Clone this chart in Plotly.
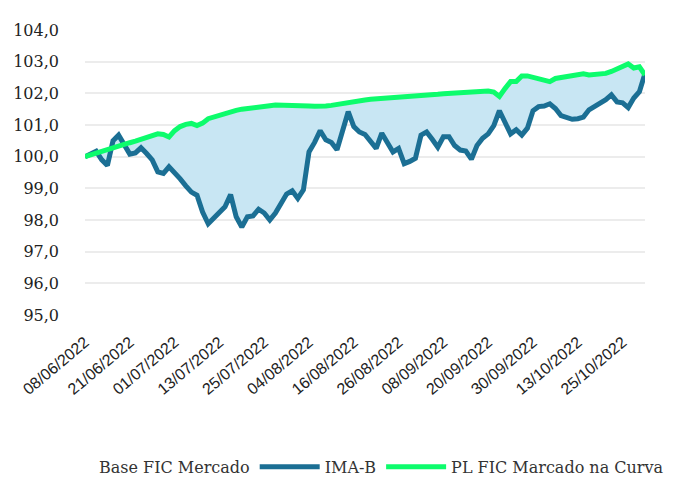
import pandas as pd
import plotly.graph_objects as go

# Business days (Brazil holidays removed) used as categories
holidays = ["2022-06-16", "2022-09-07", "2022-10-12"]
dates = pd.bdate_range("2022-06-08", "2022-10-31", freq="C",
                       holidays=holidays).strftime("%d/%m/%Y").tolist()

tick_labels = ["08/06/2022", "21/06/2022", "01/07/2022", "13/07/2022", "25/07/2022",
               "04/08/2022", "16/08/2022", "26/08/2022", "08/09/2022", "20/09/2022",
               "30/09/2022", "13/10/2022", "25/10/2022"]

ima_b = [100.0, 100.1, 100.17, 99.9, 99.72, 100.5, 100.68, 100.38, 100.08, 100.12,
         100.28, 100.1, 99.9, 99.52, 99.47, 99.68, 99.5, 99.3, 99.08, 98.88,
         98.78, 98.25, 97.88, 98.05, 98.25, 98.42, 98.8, 98.1, 97.78, 98.1,
         98.13, 98.34, 98.22, 98.0, 98.22, 98.5, 98.82, 98.92, 98.68, 98.95,
         100.15, 100.45, 100.82, 100.53, 100.45, 100.22, 100.85, 101.42, 100.95, 100.78,
         100.7, 100.5, 100.26, 100.74, 100.45, 100.15, 100.26, 99.78, 99.85, 99.95,
         100.68, 100.78, 100.55, 100.3, 100.63, 100.63, 100.35, 100.21, 100.18, 99.92,
         100.35, 100.58, 100.72, 100.98, 101.45, 101.05, 100.72, 100.85, 100.68, 100.9,
         101.45, 101.58, 101.6, 101.67, 101.52, 101.3, 101.24, 101.18, 101.2, 101.25,
         101.48, 101.58, 101.66, 101.8, 101.95, 101.73, 101.7, 101.55, 101.85, 102.05,
         102.63]

pl_fic = [100.0, 100.06, 100.1, 100.16, 100.22, 100.27, 100.33, 100.38, 100.44, 100.49,
          100.55, 100.6, 100.66, 100.72, 100.7, 100.62, 100.82, 100.95, 101.02, 101.05,
          100.98, 101.06, 101.2, 101.26, 101.31, 101.37, 101.42, 101.46, 101.5, 101.53,
          101.55, 101.58, 101.6, 101.61, 101.63, 101.63, 101.63, 101.63, 101.62, 101.61,
          101.6, 101.59, 101.58, 101.6, 101.62, 101.65, 101.67, 101.72, 101.77, 101.78,
          101.79, 101.81, 101.82, 101.84, 101.85, 101.86, 101.88, 101.89, 101.9, 101.92,
          101.93, 101.95, 101.96, 101.97, 101.99, 102.0, 102.02, 102.03, 102.05, 102.06,
          102.06, 102.07, 102.07, 102.04, 101.9, 102.15, 102.37, 102.37, 102.55, 102.55,
          102.5, 102.44, 102.41, 102.37, 102.47, 102.5, 102.53, 102.56, 102.6, 102.62,
          102.58, 102.59, 102.61, 102.63, 102.69, 102.77, 102.85, 102.93, 102.8, 102.84,
          102.58]

BLUE = "#1b6f94"
GREEN = "#0dfc6c"
FILL = "#c8e6f3"
SERIF = "DejaVu Serif"

fig = go.Figure()
# band between the two series
fig.add_trace(go.Scatter(x=dates, y=pl_fic, mode="lines", line=dict(width=0),
                         showlegend=False, hoverinfo="skip"))
fig.add_trace(go.Scatter(x=dates, y=ima_b, mode="lines", line=dict(width=0),
                         fill="tonexty", fillcolor=FILL, showlegend=False,
                         hoverinfo="skip"))
# legend entry of the band
fig.add_trace(go.Scatter(x=[None], y=[None], mode="lines", line=dict(width=0),
                         name="Base FIC Mercado"))
fig.add_trace(go.Scatter(x=dates, y=ima_b, mode="lines", name="IMA-B",
                         line=dict(color=BLUE, width=5, shape="linear")))
fig.add_trace(go.Scatter(x=dates, y=pl_fic, mode="lines", name="PL FIC Marcado na Curva",
                         line=dict(color=GREEN, width=5, shape="linear")))

fig.update_layout(
    width=677, height=477,
    margin=dict(l=85, r=32, t=30, b=162, autoexpand=False),
    paper_bgcolor="white", plot_bgcolor="white",
    separators=",.",
    showlegend=True,
    legend=dict(orientation="h", x=-0.1, xanchor="left", y=-0.533, yanchor="middle",
                font=dict(family=SERIF, size=16, color="#333333"),
                itemwidth=60, traceorder="normal"),
    xaxis=dict(type="category", range=[0, len(dates) - 1], automargin=False,
               tickmode="array", tickvals=tick_labels, ticktext=tick_labels,
               tickangle=-40, showgrid=False, zeroline=False, showline=False,
               ticks="", ticklabelstandoff=14,
               tickfont=dict(family="Liberation Sans", size=16, color="#222222")),
    yaxis=dict(range=[95, 104], dtick=1, tickformat=".1f", automargin=False,
               showgrid=True, gridcolor="#ececec", gridwidth=2,
               zeroline=False, showline=False, ticks="", ticklabelstandoff=25,
               tickfont=dict(family=SERIF, size=16, color="#222222")),
)

fig.write_html("out.html", config={"displayModeBar": False},
               post_script="document.body.style.margin='0';")
